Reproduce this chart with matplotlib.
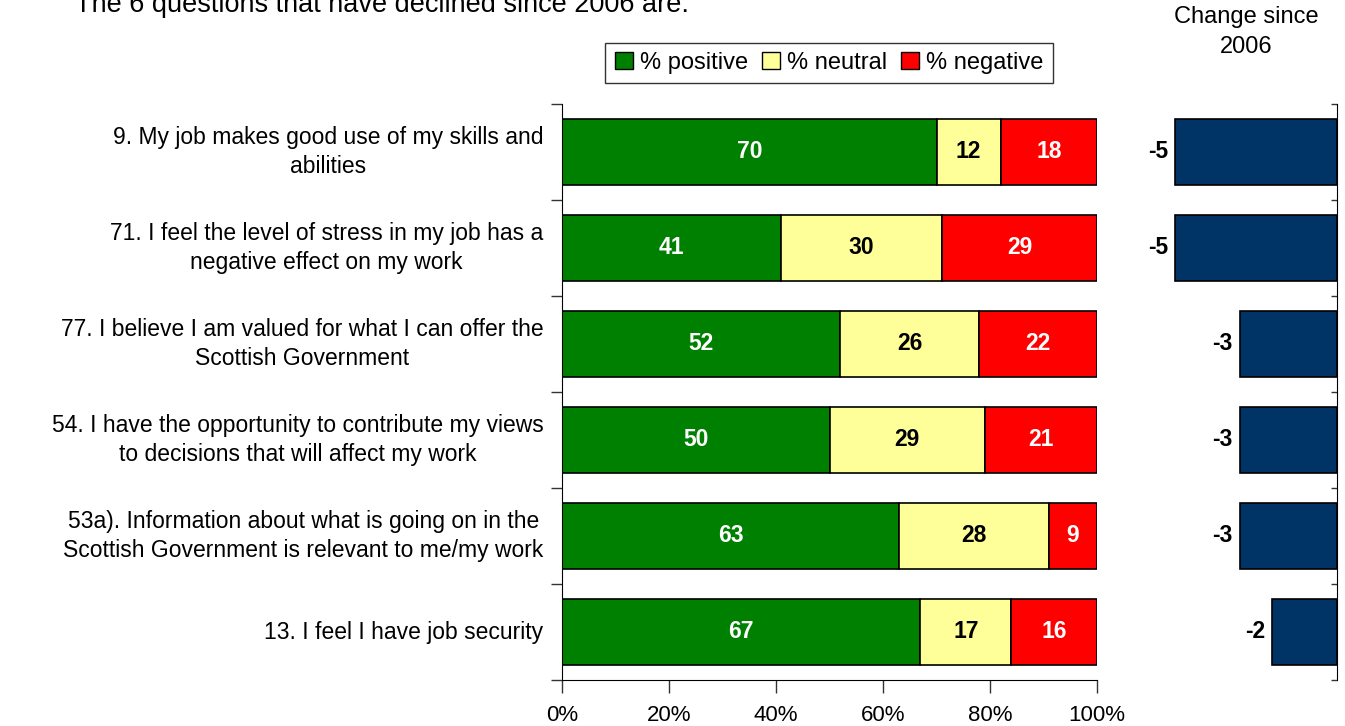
import matplotlib
matplotlib.use("Agg")
import matplotlib.pyplot as plt
from matplotlib.patches import Patch
import numpy as np

plt.rcParams['font.family'] = ['Liberation Sans', 'DejaVu Sans']

questions = [
    "9. My job makes good use of my skills and\nabilities",
    "71. I feel the level of stress in my job has a\nnegative effect on my work",
    "77. I believe I am valued for what I can offer the\nScottish Government",
    "54. I have the opportunity to contribute my views\nto decisions that will affect my work",
    "53a). Information about what is going on in the\nScottish Government is relevant to me/my work",
    "13. I feel I have job security",
]
positive = [70, 41, 52, 50, 63, 67]
neutral = [12, 30, 26, 29, 28, 17]
negative = [18, 29, 22, 21, 9, 16]
change_since_2006 = [-5, -5, -3, -3, -3, -2]
x_ticks = [0, 20, 40, 60, 80, 100]
x_tick_labels = ["0%", "20%", "40%", "60%", "80%", "100%"]

C_POS, C_NEU, C_NEG, C_CHG = "#008000", "#FFFF99", "#FF0000", "#003366"

W, H = 1345, 726
fig = plt.figure(figsize=(W / 100, H / 100), dpi=100)
fig.patch.set_facecolor("white")

def fx(px):
    return px / W

def fy(py):
    return 1 - py / H

# Main stacked bar panel
ax = fig.add_axes([fx(562), fy(680), fx(1097 - 562), (680 - 104) / H])
y = np.arange(len(questions))
bh = 0.68
pos = np.array(positive, float)
neu = np.array(neutral, float)
neg = np.array(negative, float)
ax.barh(y, pos, height=bh, color=C_POS, edgecolor="black", linewidth=1.2)
ax.barh(y, neu, left=pos, height=bh, color=C_NEU, edgecolor="black", linewidth=1.2)
ax.barh(y, neg, left=pos + neu, height=bh, color=C_NEG, edgecolor="black", linewidth=1.2)

for i in range(len(y)):
    ax.text(pos[i] / 2, y[i], f"{positive[i]}", ha="center", va="center",
            color="white", fontsize=16.5, fontweight="bold")
    ax.text(pos[i] + neu[i] / 2, y[i], f"{neutral[i]}", ha="center", va="center",
            color="black", fontsize=16.5, fontweight="bold")
    ax.text(pos[i] + neu[i] + neg[i] / 2, y[i], f"{negative[i]}", ha="center",
            va="center", color="white", fontsize=16.5, fontweight="bold")

ax.set_xlim(0, 100)
ax.set_ylim(len(questions) - 0.5, -0.5)
ax.set_xticks(x_ticks)
ax.set_xticklabels(x_tick_labels, fontsize=16)
ax.tick_params(axis="x", direction="out", length=9, width=1, pad=9, color="#333333")
ax.set_yticks(np.arange(len(questions) + 1) - 0.5)
ax.set_yticklabels([])
ax.tick_params(axis="y", direction="out", length=8, width=1, color="#333333")
for s in ("top", "right"):
    ax.spines[s].set_visible(False)
ax.spines["left"].set_color("black")
ax.spines["bottom"].set_color("black")

for i, q in enumerate(questions):
    ax.text(-0.035, i, q, transform=ax.get_yaxis_transform(), ha="right",
            va="center", multialignment="center", fontsize=16.5, linespacing=1.32)

# Change since 2006 panel
ax2 = fig.add_axes([fx(1120), fy(680), fx(1337 - 1120), (680 - 104) / H])
ax2.barh(y, change_since_2006, height=bh, color=C_CHG, edgecolor="black", linewidth=1.2)
for i, v in enumerate(change_since_2006):
    ax2.text(v - 0.22, y[i], f"{v}", ha="right", va="center",
             fontsize=16.5, fontweight="bold")
ax2.set_xlim(-6.7, 0)
ax2.set_ylim(len(questions) - 0.5, -0.5)
ax2.set_xticks([])
ax2.set_yticks(np.arange(len(questions) + 1) - 0.5)
ax2.set_yticklabels([])
ax2.yaxis.tick_right()
ax2.tick_params(axis="y", direction="in", length=4, width=1, color="#333333")
for s in ("top", "left", "bottom"):
    ax2.spines[s].set_visible(False)
ax2.spines["right"].set_color("black")
ax2.patch.set_alpha(0)

fig.text(fx(1246), fy(32), "Change since\n2006", ha="center", va="center",
         fontsize=17, linespacing=1.45)

fig.text(fx(75), fy(12), "The 6 questions that have declined since 2006 are:",
         ha="left", va="baseline", fontsize=19.5)

handles = [Patch(facecolor=C_POS, edgecolor="black", label="% positive"),
           Patch(facecolor=C_NEU, edgecolor="black", label="% neutral"),
           Patch(facecolor=C_NEG, edgecolor="black", label="% negative")]
leg = fig.legend(handles=handles, loc="center", bbox_to_anchor=(fx(829), fy(63)),
                 ncol=3, fontsize=17, frameon=True, fancybox=False,
                 handlelength=0.75, handleheight=0.75, handletextpad=0.3,
                 columnspacing=0.6, borderpad=0.4, borderaxespad=0)
leg.get_frame().set_edgecolor("black")
leg.get_frame().set_linewidth(1)

fig.savefig("out.png", dpi=100, facecolor="white")
